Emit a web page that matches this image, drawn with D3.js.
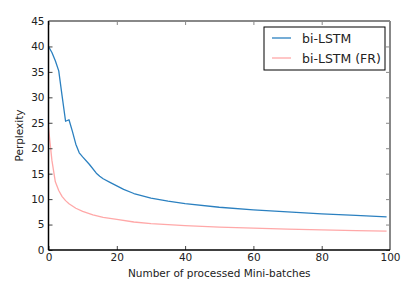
<!DOCTYPE html>
<html><head><meta charset="utf-8">
<script src="https://cdn.jsdelivr.net/npm/d3@7/dist/d3.min.js"></script>
<style>body{margin:0;background:#fff}text{font-family:"DejaVu Sans",sans-serif}</style>
</head><body>
<svg id="c" width="415" height="296"></svg>
<script>
const seriesNames = ["bi-LSTM", "bi-LSTM (FR)"];
const blueX = [0, 1, 2, 3, 4, 5, 6, 7, 8, 9, 10, 12, 14, 15, 16, 18, 20, 22, 25, 30, 35, 40, 50, 60, 70, 80, 90, 99];
const blueY = [40, 38.8, 37.2, 35.2, 30.2, 25.3, 25.6, 23.3, 20.8, 19.1, 18.3, 16.8, 15.1, 14.5, 14.0, 13.3, 12.6, 11.9, 11.1, 10.2, 9.6, 9.1, 8.4, 7.9, 7.5, 7.1, 6.8, 6.5];
const redX = [0, 1, 2, 3, 4, 5, 6, 8, 10, 13, 16, 20, 25, 30, 40, 50, 60, 70, 80, 90, 99];
const redY = [24, 17.6, 13.4, 11.7, 10.5, 9.7, 9.1, 8.2, 7.6, 6.9, 6.4, 6.0, 5.5, 5.2, 4.8, 4.5, 4.3, 4.1, 3.95, 3.8, 3.7];
const xTicks = [0, 20, 40, 60, 80, 100];
const yTicks = [0, 5, 10, 15, 20, 25, 30, 35, 40, 45];
const colors = ["#2b80c0", "#ffa8a8"];

const svg = d3.select("#c");
const L = 48.5, R = 390, T = 21, B = 250;
const x = d3.scaleLinear().domain([0, 100]).range([L, R]);
const y = d3.scaleLinear().domain([0, 45]).range([B, T]);

const line = d3.line().x(d => x(d[0])).y(d => y(d[1]));
const data = [d3.zip(blueX, blueY), d3.zip(redX, redY)];
data.forEach((d, i) => {
  svg.append("path").attr("d", line(d)).attr("fill", "none")
    .attr("stroke", colors[i]).attr("stroke-width", 1.3).attr("stroke-linejoin", "round");
});

// top & right gray ticks (inward)
const gTop = svg.append("g").attr("transform", `translate(0,${T})`)
  .call(d3.axisBottom(x).tickValues(xTicks).tickSize(4).tickFormat(""));
const gRight = svg.append("g").attr("transform", `translate(${R},0)`)
  .call(d3.axisLeft(y).tickValues(yTicks).tickSize(4).tickFormat(""));
[gTop, gRight].forEach(g => { g.select(".domain").remove(); g.selectAll("line").attr("stroke", "#888"); });

const gx = svg.append("g").attr("transform", `translate(0,${B})`)
  .call(d3.axisTop(x).tickValues(xTicks).tickSize(4).tickPadding(-15));
gx.select(".domain").remove();
gx.selectAll("line").attr("stroke", "#444");
gx.selectAll("text").attr("font-size", 10.5).attr("fill", "#222").attr("font-family", "DejaVu Sans");

const gy = svg.append("g").attr("transform", `translate(${L},0)`)
  .call(d3.axisRight(y).tickValues(yTicks).tickSize(4).tickPadding(-8));
gy.select(".domain").remove();
gy.selectAll("line").attr("stroke", "#444");
gy.selectAll("text").attr("text-anchor", "end").attr("font-size", 10.5).attr("fill", "#222").attr("font-family", "DejaVu Sans");

// spines
svg.append("line").attr("x1", L).attr("x2", R).attr("y1", T).attr("y2", T).attr("stroke", "#888").attr("stroke-width", 2);
svg.append("line").attr("x1", R).attr("x2", R).attr("y1", T).attr("y2", B).attr("stroke", "#888").attr("stroke-width", 2);
svg.append("line").attr("x1", L).attr("x2", L).attr("y1", T).attr("y2", B).attr("stroke", "#000").attr("stroke-width", 1.5);
svg.append("line").attr("x1", L).attr("x2", R).attr("y1", B).attr("y2", B).attr("stroke", "#000").attr("stroke-width", 1.5);

svg.append("text").attr("x", (L + R) / 2).attr("y", 277).attr("text-anchor", "middle")
  .attr("font-size", 10.5).attr("fill", "#222").text("Number of processed Mini-batches");
svg.append("text").attr("transform", `translate(23,${(T + B) / 2}) rotate(-90)`).attr("text-anchor", "middle")
  .attr("font-size", 10.5).attr("fill", "#222").text("Perplexity");

// legend
const lg = svg.append("g");
lg.append("rect").attr("x", 264).attr("y", 27).attr("width", 121).attr("height", 43)
  .attr("fill", "#fff").attr("stroke", "#000").attr("stroke-width", 1);
seriesNames.forEach((n, i) => {
  const yy = 38 + i * 20;
  lg.append("line").attr("x1", 272).attr("x2", 291).attr("y1", yy).attr("y2", yy)
    .attr("stroke", colors[i]).attr("stroke-width", 1.3);
  lg.append("text").attr("x", 302).attr("y", yy + 4.5).attr("font-size", 12.5).attr("fill", "#222").text(n);
});
</script>
</body></html>
